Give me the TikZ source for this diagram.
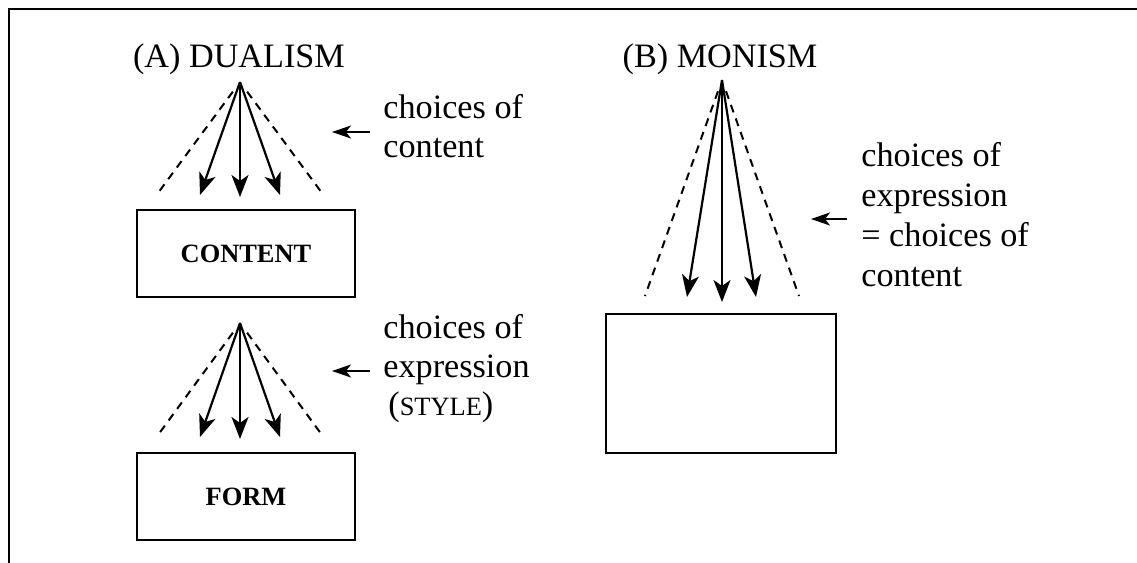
\documentclass[tikz,border=0pt]{standalone}
\usepackage{fontspec}
\setmainfont{Liberation Serif}
\usetikzlibrary{arrows.meta}
\newcommand{\smallcapsfake}[1]{{\fontsize{13.2}{16}\selectfont #1}}
\begin{document}
\begin{tikzpicture}[x=0.5pt,y=-0.5pt,
  txt/.style={inner sep=0pt, font=\fontsize{17.1}{20}\selectfont},
  lbl/.style={txt, anchor=base west},
  ttl/.style={txt, anchor=base},
  fan/.style={line width=1.1pt, -{Stealth[length=11pt,width=8.5pt,inset=3pt]}},
  guess/.style={line width=1pt, dash pattern=on 4pt off 3.2pt, shorten <=6pt},
  note/.style={line width=0.9pt, -{Stealth[length=9.5pt,width=6.5pt,inset=2.5pt]}},
  panel/.style={draw, line width=1.2pt, inner sep=0pt},
  panellabel/.style={font=\fontsize{13.2}{15}\selectfont\bfseries}]

\useasboundingbox (0,0) rectangle (1137,563);

% open frame: left and top rules only
\draw[line width=1.3pt] (9,563) -- (9,9) -- (1137,9);

% ---------------- (A) dualism ----------------
\node[ttl] (tA) at (239,67) {(A) DUALISM};

% upper fan: choices of content
\coordinate (a1) at (240,82);
\coordinate (a1dl) at (158,193);
\coordinate (a1dr) at (322,193);
\coordinate (a1l) at (200,195);
\coordinate (a1m) at (240,197);
\coordinate (a1r) at (280,195);
\draw[guess] (a1) -- (a1dl);
\draw[guess] (a1) -- (a1dr);
\draw[fan] (a1) -- (a1l);
\draw[fan] (a1) -- (a1m);
\draw[fan] (a1) -- (a1r);

\node[panel, minimum width=109pt, minimum height=43.5pt] (content) at (246,253.5) {};
\node[panellabel] (contentlbl) at (content.center) {CONTENT};

\coordinate (n1s) at (370,132);
\coordinate (n1e) at (332,132);
\draw[note] (n1s) -- (n1e);
\node[lbl] (n1a) at (383,118) {choices of};
\node[lbl] (n1b) at (383,157) {content};

% lower fan: choices of expression
\coordinate (a2) at (240,323);
\coordinate (a2dl) at (158,435);
\coordinate (a2dr) at (322,435);
\coordinate (a2l) at (200,437);
\coordinate (a2m) at (240,439);
\coordinate (a2r) at (280,437);
\draw[guess] (a2) -- (a2dl);
\draw[guess] (a2) -- (a2dr);
\draw[fan] (a2) -- (a2l);
\draw[fan] (a2) -- (a2m);
\draw[fan] (a2) -- (a2r);

\node[panel, minimum width=109pt, minimum height=43.5pt] (form) at (246,496.5) {};
\node[panellabel] (formlbl) at (form.center) {FORM};

\coordinate (n2s) at (370,371);
\coordinate (n2e) at (332,371);
\draw[note] (n2s) -- (n2e);
\node[lbl] (n2a) at (383,338) {choices of};
\node[lbl] (n2b) at (383,377) {expression};
\node[lbl] (n2c) at (388,415) {(\smallcapsfake{STYLE})};

% ---------------- (B) monism ----------------
\node[ttl] (tB) at (720,67) {(B) MONISM};

\coordinate (b1) at (722,80);
\coordinate (b1dl) at (645,296);
\coordinate (b1dr) at (799,296);
\coordinate (b1l) at (687,297);
\coordinate (b1m) at (722,302);
\coordinate (b1r) at (756,297);
\draw[guess] (b1) -- (b1dl);
\draw[guess] (b1) -- (b1dr);
\draw[fan] (b1) -- (b1l);
\draw[fan] (b1) -- (b1m);
\draw[fan] (b1) -- (b1r);

\node[panel, minimum width=115pt, minimum height=69.5pt] (whole) at (721,383.5) {};

\coordinate (n3s) at (847,219);
\coordinate (n3e) at (811,219);
\draw[note] (n3s) -- (n3e);
\node[lbl] (n3a) at (861,166) {choices of};
\node[lbl] (n3b) at (861,206) {expression};
\node[lbl] (n3c) at (861,246) {= choices of};
\node[lbl] (n3d) at (861,286) {content};

\end{tikzpicture}
\end{document}
